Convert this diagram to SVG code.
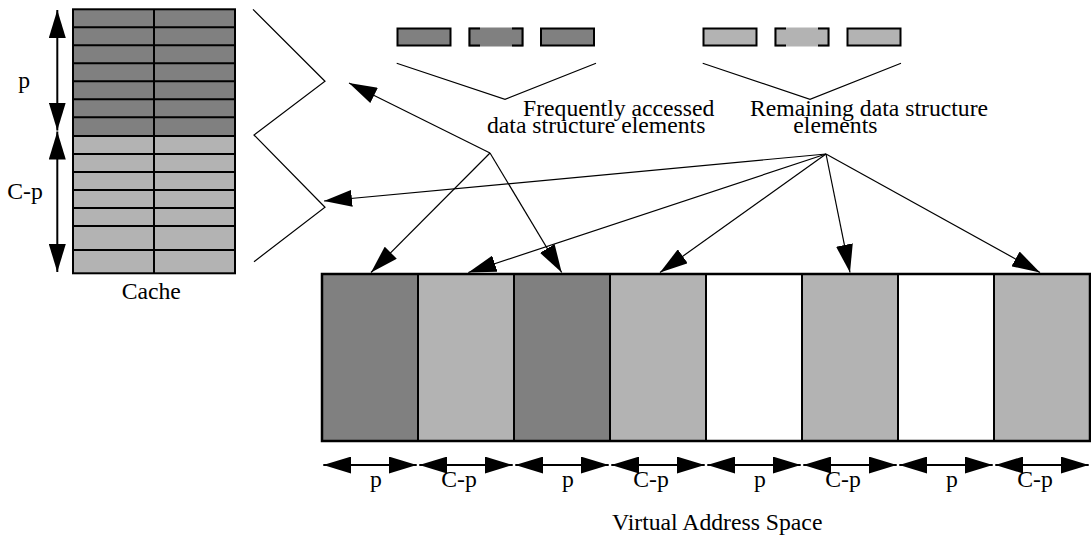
<svg xmlns="http://www.w3.org/2000/svg" width="1091" height="538" viewBox="0 0 1091 538">
<defs>
<marker id="ah" viewBox="0 0 28 17" refX="28" refY="8.5" markerWidth="28" markerHeight="17" markerUnits="userSpaceOnUse" orient="auto-start-reverse">
<path d="M0,0 L28,8.5 L0,17 Z" fill="#000"/>
</marker>
</defs>
<style>
text{font-family:"Liberation Serif","Times New Roman",serif;font-size:23.7px;fill:#000}
.dk{fill:#808080}
.lt{fill:#b3b3b3}
.cell{stroke:#000;stroke-width:2}
.brd{fill:none;stroke:#000;stroke-width:2}
.thin{fill:none;stroke:#000;stroke-width:1.2}
.conn{fill:none;stroke:#000;stroke-width:1.2;marker-end:url(#ah)}
.dim{fill:none;stroke:#000;stroke-width:2;marker-start:url(#ah);marker-end:url(#ah)}
</style>

<g id="cache">
<rect class="dk" x="73" y="9.3" width="162" height="126.7"/>
<rect class="lt" x="73" y="136" width="162" height="137.3"/>
<path class="brd" d="M73,27.3H235M73,45.3H235M73,63.3H235M73,81.3H235M73,99.3H235M73,117.3H235M73,136H235M73,154H235M73,172H235M73,190H235M73,208H235M73,226H235M73,250H235M154,9.3V273.3"/>
<rect class="brd" x="73" y="9.3" width="162" height="264"/>
<text x="121.7" y="299">Cache</text>
</g>

<g id="cache-dims">
<line class="dim" x1="57.3" y1="10" x2="57.3" y2="130.5"/>
<line class="dim" x1="57.3" y1="131.5" x2="57.3" y2="272"/>
<text x="18.3" y="88">p</text>
<text x="7.3" y="199.3">C-p</text>
</g>

<g id="zigzag">
<polyline class="thin" points="253,9.3 325,81.3 254,135 325,207.3 254,261.7"/>
</g>

<g id="frequent">
<rect class="dk" x="397.5" y="28.5" width="53" height="17"/>
<rect class="brd" x="397.5" y="28.5" width="53" height="17"/>
<rect class="dk" x="468.5" y="27.5" width="55" height="19"/>
<path class="brd" d="M480,28.5H469.5V45.5H480M512,28.5H522.5V45.5H512"/>
<rect class="dk" x="541" y="28.5" width="53" height="17"/>
<rect class="brd" x="541" y="28.5" width="53" height="17"/>
<polyline class="thin" points="396.7,63.3 505,99.3 596,63.3"/>
<text x="523" y="116">Frequently accessed</text>
<text x="487" y="133">data structure elements</text>
</g>

<g id="remaining">
<rect class="lt" x="703.5" y="28.5" width="53" height="17"/>
<rect class="brd" x="703.5" y="28.5" width="53" height="17"/>
<rect class="lt" x="774.5" y="27.5" width="55" height="19"/>
<path class="brd" d="M786,28.5H775.5V45.5H786M818,28.5H828.5V45.5H818"/>
<rect class="lt" x="847.5" y="28.5" width="53" height="17"/>
<rect class="brd" x="847.5" y="28.5" width="53" height="17"/>
<polyline class="thin" points="702.7,63.3 810,99.3 901,63.3"/>
<text x="750" y="116">Remaining data structure</text>
<text x="793.3" y="133">elements</text>
</g>

<g id="vas">
<rect class="dk" x="322" y="274" width="96" height="167"/>
<rect class="lt" x="418" y="274" width="96" height="167"/>
<rect class="dk" x="514" y="274" width="96" height="167"/>
<rect class="lt" x="610" y="274" width="96" height="167"/>
<rect fill="#fff" x="706" y="274" width="96" height="167"/>
<rect class="lt" x="802" y="274" width="96" height="167"/>
<rect fill="#fff" x="898" y="274" width="96" height="167"/>
<rect class="lt" x="994" y="274" width="96" height="167"/>
<path class="brd" d="M418,274V441M514,274V441M610,274V441M706,274V441M802,274V441M898,274V441M994,274V441"/>
<rect fill="none" stroke="#000" stroke-width="2.5" x="322" y="274" width="768" height="167"/>
</g>

<g id="vas-dims">
<line class="dim" x1="323.3" y1="465" x2="416.7" y2="465"/>
<line class="dim" x1="419.3" y1="465" x2="512.7" y2="465"/>
<line class="dim" x1="515.3" y1="465" x2="608.7" y2="465"/>
<line class="dim" x1="611.3" y1="465" x2="704.7" y2="465"/>
<line class="dim" x1="707.3" y1="465" x2="800.7" y2="465"/>
<line class="dim" x1="803.3" y1="465" x2="896.7" y2="465"/>
<line class="dim" x1="899.3" y1="465" x2="992.7" y2="465"/>
<line class="dim" x1="995.3" y1="465" x2="1088.7" y2="465"/>
<g text-anchor="middle">
<text x="376" y="487">p</text>
<text x="459" y="487">C-p</text>
<text x="568" y="487">p</text>
<text x="651" y="487">C-p</text>
<text x="760" y="487">p</text>
<text x="843" y="487">C-p</text>
<text x="952" y="487">p</text>
<text x="1035" y="487">C-p</text>
</g>
<text x="612" y="530">Virtual Address Space</text>
</g>

<g id="connectors">
<line class="conn" x1="490" y1="153" x2="349" y2="83"/>
<line class="conn" x1="490" y1="153" x2="371" y2="272.5"/>
<line class="conn" x1="490" y1="153" x2="561.7" y2="272.5"/>
<line class="conn" x1="826" y1="154" x2="324" y2="201"/>
<line class="conn" x1="826" y1="154" x2="468.3" y2="272.5"/>
<line class="conn" x1="826" y1="154" x2="660" y2="272.5"/>
<line class="conn" x1="826" y1="154" x2="850" y2="272.5"/>
<line class="conn" x1="826" y1="154" x2="1040" y2="272.5"/>
</g>
</svg>
